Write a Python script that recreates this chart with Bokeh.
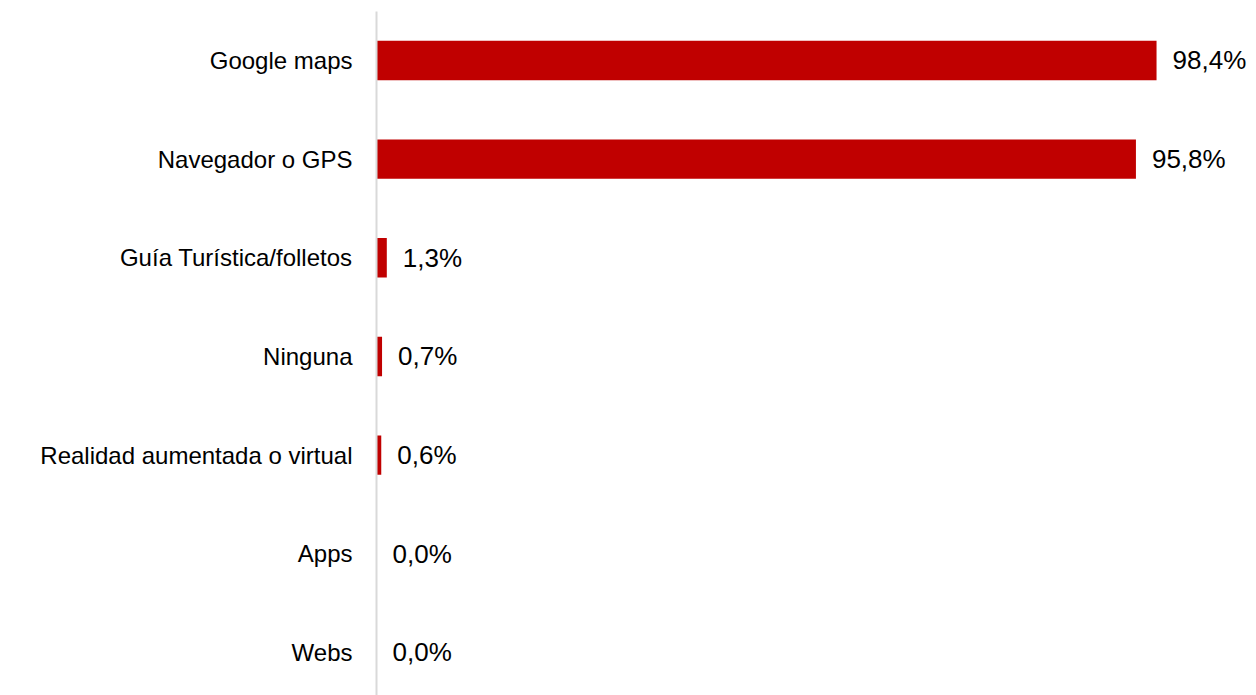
from bokeh.plotting import figure
from bokeh.models import ColumnDataSource, Range1d, FixedTicker
from bokeh.core.properties import value
from bokeh.embed import file_html
from bokeh.resources import INLINE

categories = ["Google maps", "Navegador o GPS", "Guía Turística/folletos", "Ninguna",
              "Realidad aumentada o virtual", "Apps", "Webs"]
values = [98.4, 95.8, 1.3, 0.7, 0.6, 0.0, 0.0]
value_labels = ["98,4%", "95,8%", "1,3%", "0,7%", "0,6%", "0,0%", "0,0%"]

pos = list(range(len(categories)))
src = ColumnDataSource(dict(y=pos, v=values, lab=value_labels))

p = figure(width=1256, height=695, output_backend="svg", toolbar_location=None,
           x_range=Range1d(0, 110), y_range=Range1d(6.436, -0.496),
           x_axis_location=None, min_border_left=376, min_border_right=8,
           min_border_top=11, min_border_bottom=0)
p.outline_line_color = None
p.grid.visible = False
p.background_fill_color = "white"
p.border_fill_color = "white"

p.hbar(y="y", right="v", left=0, height=0.4, source=src, color="#c00000", line_color=None)
p.text(x="v", y="y", text="lab", source=src, x_offset=16, text_baseline="middle",
       text_align="left", text_font=value("Liberation Sans"), text_font_size="26px",
       text_color="#000000")

ax = p.yaxis[0]
ax.ticker = FixedTicker(ticks=pos)
ax.major_label_overrides = {i: c for i, c in enumerate(categories)}
ax.major_tick_line_color = None
ax.minor_tick_line_color = None
ax.major_tick_out = 0
ax.major_tick_in = 0
ax.major_label_standoff = 24
ax.axis_line_color = "#d9d9d9"
ax.axis_line_width = 2
ax.major_label_text_font = "Liberation Sans"
ax.major_label_text_font_size = "24px"
ax.major_label_text_color = "#000000"

open("out.html", "w").write(file_html(p, INLINE))
